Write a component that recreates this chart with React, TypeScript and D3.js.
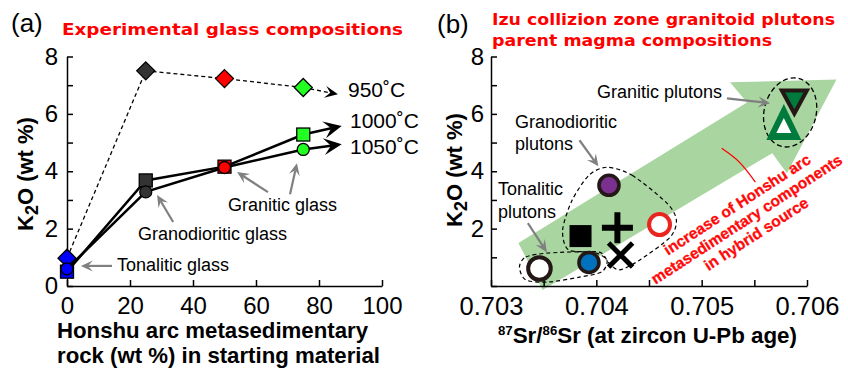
import React, { useEffect, useRef } from "react";
import * as d3 from "d3";

// ---- panel (a): experimental glass ----
const sedimentPct = [0, 25, 50, 75];
const k2o950 = [0.97, 7.5, 7.23, 6.92];
const k2o1000 = [0.5, 3.68, 4.16, 5.28];
const k2o1050 = [0.6, 3.28, 4.13, 4.76];
const glassColors = ["#0000ff", "#333333", "#ff0000", "#22ff22"];
const tempLabels = ["950˚C", "1000˚C", "1050˚C"];
const tempArrowTips = [[86, 6.68], [87.2, 5.58], [87.2, 4.94]];
const xTicksA = [0, 20, 40, 60, 80, 100];
const yTicks = [0, 1, 2, 3, 4, 5, 6, 7, 8];

// glass annotation arrows: tail x, tail y, head x, head y
const glassArrows = [
  [63.8, 3.27, 54.0, 3.97],
  [70.8, 3.2, 73.0, 4.28],
  [33.7, 2.23, 28.6, 3.17],
  [14.3, 0.7, 4.4, 0.7],
];

// ---- panel (b): Izu plutons ----
const plutonSr = [0.70346, 0.70393, 0.70412, 0.70385, 0.7042, 0.70423, 0.7046, 0.70588, 0.70578];
const plutonK2O = [0.61, 0.82, 3.51, 1.74, 2.03, 1.08, 2.14, 6.43, 5.72];
const plutonSymbol = ["openCircle", "blueCircle", "purpleCircle", "square", "plus", "cross", "redCircle", "triDown", "triUp"];
const srTicks = [0.703, 0.7035, 0.704, 0.7045, 0.705, 0.7055, 0.706];
const srTickLabels = ["0.703", "", "0.704", "", "0.705", "", "0.706"];

// trend arrow outline (Sr, K2O)
const trendArrow = [
  [0.70326, 1.5], [0.70543, 6.4], [0.70527, 7.1], [0.70628, 7.2],
  [0.70581, 3.93], [0.70567, 4.63], [0.70349, -0.14],
];
// dashed groupings
const granodioriteGroup = [
  [0.7041, 4.14], [0.70434, 3.86], [0.70467, 2.89], [0.70476, 2.3], [0.7047, 1.7],
  [0.70441, 0.9], [0.70422, 0.56], [0.70412, 0.8], [0.70403, 1.18], [0.70374, 1.25],
  [0.70368, 1.95], [0.70377, 2.99], [0.70393, 3.86],
];
const tonaliteGroup = [
  [0.70327, 0.66], [0.70333, 1.01], [0.70355, 1.15], [0.70396, 1.18], [0.7041, 0.9],
  [0.70405, 0.49], [0.70384, 0.31], [0.70355, 0.14], [0.70333, 0.21],
];
const graniteGroup = { sr: 0.70584, k2o: 6.05 };
const plutonArrows = [
  [0.70524, 6.54, 0.70565, 6.37],
  [0.70384, 5.08, 0.70402, 4.17],
  [0.70335, 2.19, 0.70353, 1.18],
];
const redCurve = [[0.70519, 4.8], [0.70536, 4.31], [0.70551, 3.62]];

const FONT = "'Liberation Sans', Arial, Helvetica, sans-serif";
const TITLE_FONT = "'DejaVu Sans', sans-serif";

function barbArrow(g, x1, y1, x2, y2, color, width, len, half, dash) {
  const a = Math.atan2(y2 - y1, x2 - x1);
  const ux = Math.cos(a), uy = Math.sin(a);
  const px = -uy, py = ux;
  const nx = x2 - ux * len * 0.6, ny = y2 - uy * len * 0.6;
  const ln = g.append("line")
    .attr("x1", x1).attr("y1", y1).attr("x2", nx).attr("y2", ny)
    .attr("stroke", color).attr("stroke-width", width);
  if (dash) ln.attr("stroke-dasharray", dash);
  const bx = x2 - ux * len, by = y2 - uy * len;
  g.append("path")
    .attr("d", `M${x2},${y2}L${bx + px * half},${by + py * half}L${nx},${ny}L${bx - px * half},${by - py * half}Z`)
    .attr("fill", color);
}

function styleAxis(g, size) {
  g.attr("font-size", size).attr("font-family", FONT);
  g.select(".domain").attr("stroke-width", 1.5);
  g.selectAll(".tick line").attr("stroke-width", 1.5);
  g.selectAll(".tick text").attr("fill", "#000");
}

function drawPanelA(svg) {
  const x = d3.scaleLinear().domain([0, 100]).range([67, 382]);
  const y = d3.scaleLinear().domain([0, 8]).range([286, 56.5]);
  const g = svg.append("g");

  const gx = g.append("g").attr("transform", "translate(0,286)")
    .call(d3.axisBottom(x).tickValues(xTicksA).tickSizeInner(-6).tickSizeOuter(0).tickPadding(11));
  styleAxis(gx, 24);
  const gy = g.append("g").attr("transform", "translate(67,0)")
    .call(d3.axisLeft(y).tickValues(yTicks).tickFormat(d => (d % 2 === 0 ? String(d) : ""))
      .tickSizeInner(-6).tickSizeOuter(0).tickPadding(9));
  styleAxis(gy, 24);

  const line = d3.line().x(d => x(d[0])).y(d => y(d[1]));
  const series = [k2o950, k2o1000, k2o1050];
  series.forEach((vals, si) => {
    const pts = sedimentPct.map((p, i) => [p, vals[i]]);
    const path = g.append("path").attr("d", line(pts)).attr("fill", "none").attr("stroke", "#000");
    const last = pts[pts.length - 1];
    const tip = tempArrowTips[si];
    if (si === 0) {
      path.attr("stroke-width", 1.3).attr("stroke-dasharray", "4,3");
      barbArrow(g, x(last[0]), y(last[1]), x(tip[0]), y(tip[1]), "#000", 1.3, 13, 6, "4,3");
    } else {
      path.attr("stroke-width", 2.5);
      barbArrow(g, x(last[0]), y(last[1]), x(tip[0]), y(tip[1]), "#000", 2.5, 18, 8.5, null);
    }
  });

  // markers
  sedimentPct.forEach((p, i) => {
    const cx = x(p), cy = y(k2o950[i]);
    g.append("path").attr("d", `M${cx},${cy - 9}L${cx + 9},${cy}L${cx},${cy + 9}L${cx - 9},${cy}Z`)
      .attr("fill", glassColors[i]).attr("stroke", "#000").attr("stroke-width", 1.3);
  });
  sedimentPct.forEach((p, i) => {
    g.append("rect").attr("x", x(p) - 6.5).attr("y", y(k2o1000[i]) - 6.5).attr("width", 13).attr("height", 13)
      .attr("fill", glassColors[i]).attr("stroke", "#000").attr("stroke-width", 1.3);
  });
  sedimentPct.forEach((p, i) => {
    g.append("circle").attr("cx", x(p)).attr("cy", y(k2o1050[i])).attr("r", 6)
      .attr("fill", glassColors[i]).attr("stroke", "#000").attr("stroke-width", 1.3);
  });

  glassArrows.forEach(a => barbArrow(g, x(a[0]), y(a[1]), x(a[2]), y(a[3]), "#808080", 2.2, 12, 5.5, null));

  const txt = (s, tx, ty, size, extra = {}) => {
    const t = g.append("text").attr("x", tx).attr("y", ty).attr("font-size", size).attr("font-family", FONT).text(s);
    Object.entries(extra).forEach(([k, v]) => t.attr(k, v));
    return t;
  };
  txt("Granitic glass", 228, 211, 18);
  txt("Granodioritic glass", 138, 240, 18);
  txt("Tonalitic glass", 117, 271, 18);
  txt(tempLabels[0], 348, 97, 21);
  txt(tempLabels[1], 350, 128, 21);
  txt(tempLabels[2], 350, 154, 21);

  txt("(a)", 11, 32, 26);
  txt("Experimental glass compositions", 62, 35, 15.5, {
    fill: "#ff0000", "font-weight": "bold", "font-family": TITLE_FONT, textLength: 341, lengthAdjust: "spacingAndGlyphs",
  });
  txt("Honshu arc metasedimentary", 57, 338, 22, { "font-weight": "bold", textLength: 311, lengthAdjust: "spacingAndGlyphs" });
  txt("rock (wt %) in starting material", 57, 363, 22, { "font-weight": "bold", textLength: 323, lengthAdjust: "spacingAndGlyphs" });

  const yl = g.append("text").attr("transform", "translate(33,174) rotate(-90)").attr("text-anchor", "middle")
    .attr("font-size", 22).attr("font-weight", "bold").attr("font-family", FONT);
  yl.append("tspan").text("K");
  yl.append("tspan").attr("dy", 5).attr("font-size", 18).text("2");
  yl.append("tspan").attr("dy", -5).text("O (wt %)");
}

function drawPanelB(svg) {
  const x = d3.scaleLinear().domain([0.703, 0.706]).range([491, 807]);
  const y = d3.scaleLinear().domain([0, 8]).range([286, 56.5]);
  const g = svg.append("g");

  // trend arrow
  g.append("path").attr("d", d3.line().x(d => x(d[0])).y(d => y(d[1]))(trendArrow) + "Z")
    .attr("fill", "#a9d5a0");

  const gx = g.append("g").attr("transform", "translate(0,286)")
    .call(d3.axisBottom(x).tickValues(srTicks).tickFormat((d, i) => srTickLabels[i])
      .tickSizeInner(-6).tickSizeOuter(0).tickPadding(11));
  styleAxis(gx, 25.5);
  const gy = g.append("g").attr("transform", "translate(491,0)")
    .call(d3.axisLeft(y).tickValues(yTicks).tickFormat(d => (d % 2 === 0 && d > 0 ? String(d) : ""))
      .tickSizeInner(-6).tickSizeOuter(0).tickPadding(7));
  styleAxis(gy, 24);

  // dashed groups
  const closed = d3.line().x(d => x(d[0])).y(d => y(d[1])).curve(d3.curveCardinalClosed.tension(0.2));
  [granodioriteGroup, tonaliteGroup].forEach(pts => {
    g.append("path").attr("d", closed(pts)).attr("fill", "none").attr("stroke", "#000")
      .attr("stroke-width", 1.2).attr("stroke-dasharray", "4,3");
  });
  const gcx = x(graniteGroup.sr), gcy = y(graniteGroup.k2o);
  g.append("ellipse").attr("cx", gcx).attr("cy", gcy).attr("rx", 26).attr("ry", 35)
    .attr("transform", `rotate(14,${gcx},${gcy})`)
    .attr("fill", "none").attr("stroke", "#000").attr("stroke-width", 1.3).attr("stroke-dasharray", "5,3");

  // pluton markers
  const dark = "#231815";
  plutonSymbol.forEach((s, i) => {
    const cx = x(plutonSr[i]), cy = y(plutonK2O[i]);
    if (s === "openCircle") {
      g.append("circle").attr("cx", cx).attr("cy", cy).attr("r", 11.3).attr("fill", "#fff").attr("stroke", dark).attr("stroke-width", 4);
    } else if (s === "blueCircle" || s === "purpleCircle") {
      g.append("circle").attr("cx", cx).attr("cy", cy).attr("r", 10)
        .attr("fill", s === "blueCircle" ? "#0071bc" : "#7b2f8e").attr("stroke", dark).attr("stroke-width", 3.6);
    } else if (s === "redCircle") {
      g.append("circle").attr("cx", cx).attr("cy", cy).attr("r", 10.5).attr("fill", "#fff").attr("stroke", "#e8251f").attr("stroke-width", 4);
    } else if (s === "square") {
      g.append("rect").attr("x", cx - 11).attr("y", cy - 11).attr("width", 22).attr("height", 22).attr("fill", "#000");
    } else if (s === "plus") {
      g.append("path").attr("d", `M${cx - 15.5},${cy}H${cx + 15.5}M${cx},${cy - 15.5}V${cy + 15.5}`)
        .attr("stroke", "#000").attr("stroke-width", 6);
    } else if (s === "cross") {
      g.append("path").attr("d", `M${cx - 12},${cy - 12}L${cx + 12},${cy + 12}M${cx + 12},${cy - 12}L${cx - 12},${cy + 12}`)
        .attr("stroke", "#000").attr("stroke-width", 5);
    } else if (s === "triDown") {
      g.append("path").attr("d", `M${cx - 12.5},${cy - 11}H${cx + 12.5}L${cx},${cy + 12}Z`)
        .attr("fill", "#007a3d").attr("stroke", dark).attr("stroke-width", 4);
    } else if (s === "triUp") {
      g.append("path").attr("d", `M${cx},${cy - 18}L${cx + 17.5},${cy + 18}H${cx - 17.5}Z`).attr("fill", "#007a3d");
      g.append("path").attr("d", `M${cx},${cy - 4}L${cx + 7.5},${cy + 11}H${cx - 7.5}Z`).attr("fill", "#fff");
    }
  });

  plutonArrows.forEach(a => barbArrow(g, x(a[0]), y(a[1]), x(a[2]), y(a[3]), "#808080", 2.2, 12, 5.5, null));

  g.append("path").attr("d", d3.line().x(d => x(d[0])).y(d => y(d[1])).curve(d3.curveNatural)(redCurve))
    .attr("fill", "none").attr("stroke", "#ff0000").attr("stroke-width", 1.3);

  const txt = (s, tx, ty, size, extra = {}) => {
    const t = g.append("text").attr("x", tx).attr("y", ty).attr("font-size", size).attr("font-family", FONT).text(s);
    Object.entries(extra).forEach(([k, v]) => t.attr(k, v));
    return t;
  };
  txt("Granitic plutons", 597, 98, 18);
  txt("Granodioritic", 515, 128, 18);
  txt("plutons", 515, 150, 18);
  txt("Tonalitic", 498, 195, 18);
  txt("plutons", 498, 218, 18);

  const rt = g.append("g").attr("transform", "translate(740,209) rotate(-33)");
  ["increase of Honshu arc", "metasedimentary components", "in hybrid source"].forEach((s, i) => {
    rt.append("text").attr("x", 0).attr("y", i * 17.5).attr("text-anchor", "middle")
      .attr("font-size", 15.5).attr("font-weight", "bold").attr("font-family", FONT).attr("fill", "#ff0a0a")
      .attr("stroke", "#ff0a0a").attr("stroke-width", 0.3).text(s);
  });

  txt("(b)", 437, 33, 26);
  txt("Izu collizion zone granitoid plutons", 492, 25, 15.5, {
    fill: "#ff0000", "font-weight": "bold", "font-family": TITLE_FONT, textLength: 343, lengthAdjust: "spacingAndGlyphs",
  });
  txt("parent magma compositions", 492, 46, 15.5, {
    fill: "#ff0000", "font-weight": "bold", "font-family": TITLE_FONT, textLength: 280, lengthAdjust: "spacingAndGlyphs",
  });

  const xl = g.append("text").attr("x", 498).attr("y", 343).attr("font-size", 22).attr("font-weight", "bold")
    .attr("font-family", FONT).attr("textLength", 299).attr("lengthAdjust", "spacingAndGlyphs");
  xl.append("tspan").attr("font-size", 13).attr("dy", -8).text("87");
  xl.append("tspan").attr("dy", 8).text("Sr/");
  xl.append("tspan").attr("font-size", 13).attr("dy", -8).text("86");
  xl.append("tspan").attr("dy", 8).text("Sr (at zircon U-Pb age)");

  const yl = g.append("text").attr("transform", "translate(462,170) rotate(-90)").attr("text-anchor", "middle")
    .attr("font-size", 22).attr("font-weight", "bold").attr("font-family", FONT);
  yl.append("tspan").text("K");
  yl.append("tspan").attr("dy", 5).attr("font-size", 18).text("2");
  yl.append("tspan").attr("dy", -5).text("O (wt %)");
}

export default function App() {
  const svgRef = useRef(null);
  useEffect(() => {
    const svg = d3.select(svgRef.current);
    svg.selectAll("*").remove();
    svg.append("rect").attr("width", 848).attr("height", 371).attr("fill", "#fff");
    drawPanelA(svg);
    drawPanelB(svg);
  }, []);
  return (
    <svg ref={svgRef} width={848} height={371}
      style={{ position: "absolute", left: 0, top: 0, fontFamily: FONT }} />
  );
}
